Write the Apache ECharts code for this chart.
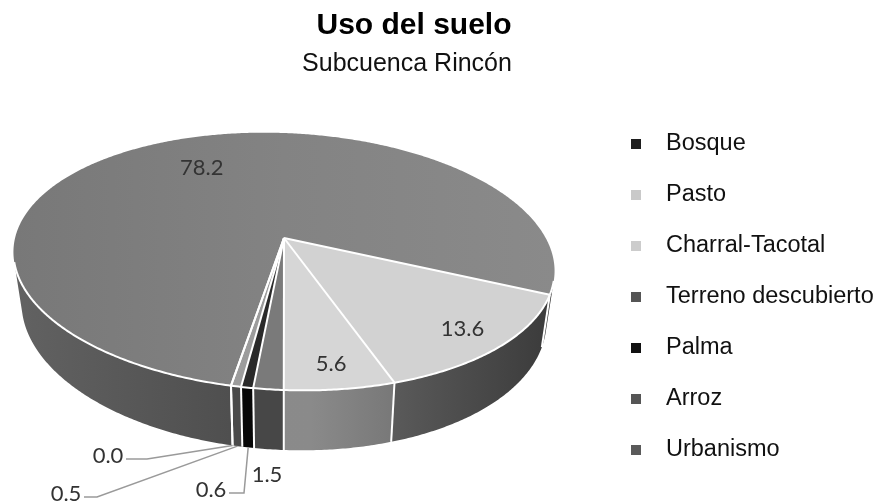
<!DOCTYPE html>
<html><head><meta charset="utf-8">
<script src="https://cdn.jsdelivr.net/npm/echarts@6/dist/echarts.min.js"></script>
<style>html,body{margin:0;padding:0;background:#fff}#c{width:874px;height:503px}</style>
</head><body><div id="c"></div>
<script>
// ---- data ----
const categories = ['Bosque', 'Pasto', 'Charral-Tacotal', 'Terreno descubierto', 'Palma', 'Arroz', 'Urbanismo'];
const values = [78.2, 13.6, 5.6, 1.5, 0.6, 0.5, 0.0];

// ---- styles ----
const legendColors = ['#1e1e1e', '#c9c9c9', '#cccccc', '#555555', '#111111', '#555555', '#5a5a5a'];
const topColors = [
  [[0, '#787878'], [0.5, '#838383'], [1, '#8a8a8a']],
  [[0, '#d2d2d2'], [1, '#d2d2d2']],
  [[0, '#d6d6d6'], [1, '#d6d6d6']],
  [[0, '#7a7a7a'], [1, '#7a7a7a']],
  [[0, '#2a2a2a'], [1, '#2a2a2a']],
  [[0, '#9c9c9c'], [1, '#9c9c9c']],
  [[0, '#888888'], [1, '#888888']]
];
// side wall gradients (global x from left edge to right edge of pie)
const sideColors = [
  [[0, '#626262'], [0.4, '#4f4f4f'], [0.95, '#363636'], [1, '#2a2a2a']],
  [[0, '#5c5c5c'], [0.7, '#5a5a5a'], [1, '#3a3a3a']],
  [[0, '#8c8c8c'], [0.55, '#8a8a8a'], [0.72, '#767676'], [1, '#707070']],
  [[0, '#474747'], [1, '#474747']],
  [[0, '#070707'], [1, '#070707']],
  [[0, '#4a4a4a'], [1, '#4a4a4a']],
  [[0, '#555555'], [1, '#555555']]
];
// ---- layout ----
const G = {cx: 284, cy: 238, rx: 266, ry: 124.2, p: 0.183, k: 0.035, depth: 49, sb: 0.97, startDeg: 189.4, xL: 13, xR: 555};
// label placement: ['in', radiusFraction] or ['out', x, y, leaderElbowX] (leaderElbowX null = no leader)
const labelLayout = [
  ['in', 0.69],
  ['in', 0.85],
  ['in', 0.86],
  ['out', 267, 475, null],
  ['out', 211, 490, 244],
  ['out', 66, 494, 97],
  ['out', 108, 456, 147]
];
const LABEL_FONT = {fontFamily: 'Lato', fontSize: 22, fill: '#333333'};

function proj(deg, r, bottom) {
  const t = deg * Math.PI / 180;
  const u = r * Math.sin(t), v = -r * Math.cos(t);
  const w = 1 - G.p * v;
  let x = G.cx + G.rx * u / w;
  let y = G.cy + G.ry * v / w + G.k * (x - G.cx);
  if (bottom) { x = G.cx + (x - G.cx) * G.sb; y += G.depth / w; }
  return [x, y];
}
function visible(t0, t1) {
  const A = proj(t0, 1, false), B = proj(t1, 1, false), C = proj(t1, 1, true), D = proj(t0, 1, true);
  const P = [A, B, C, D];
  let s = 0;
  for (let i = 0; i < 4; i++) { const a = P[i], b = P[(i + 1) % 4]; s += a[0] * b[1] - b[0] * a[1]; }
  return s < 0;
}
function grad(stops) {
  return {type: 'linear', x: G.xL, y: 0, x2: G.xR, y2: 0, global: true,
    colorStops: stops.map(s => ({offset: s[0], color: s[1]}))};
}
function arc(a, b, bottom) {
  const n = Math.max(1, Math.ceil(Math.abs(b - a) / 0.5));
  const pts = [];
  for (let i = 0; i <= n; i++) pts.push(proj(a + (b - a) * i / n, 1, bottom));
  return pts;
}

function makeRender(idx) {
  return function (params, api) {
    const total = values.reduce((s, v) => s + v, 0);
    let before = 0;
    for (let j = 0; j < idx; j++) before += values[j];
    const val = api.value(0);
    const a = G.startDeg + 360 * before / total;
    const b = a + 360 * val / total;
    const children = [];
    // side wall runs
    const N = Math.max(1, Math.ceil((b - a) / 0.25));
    const runs = [];
    let run = null;
    for (let n = 0; n < N; n++) {
      const t0 = a + (b - a) * n / N, t1 = a + (b - a) * (n + 1) / N;
      if (t1 > t0 && visible(t0, t1)) {
        if (!run) run = [t0, t1]; else run[1] = t1;
      } else if (run) { runs.push(run); run = null; }
    }
    if (run) runs.push(run);
    runs.forEach(r => {
      const top = arc(r[0], r[1], false);
      const bot = arc(r[0], r[1], true).reverse();
      children.push({type: 'polygon', z2: 1, shape: {points: top.concat(bot)},
        style: {fill: grad(sideColors[idx]), stroke: null}});
      children.push({type: 'polyline', z2: 3, shape: {points: top},
        style: {stroke: '#ffffff', lineWidth: 2, fill: null}});
    });
    // vertical boundary line at slice start
    if (visible(a - 0.3, a) || visible(a, a + 0.3)) {
      children.push({type: 'line', z2: 4, shape: {
        x1: proj(a, 1, false)[0], y1: proj(a, 1, false)[1],
        x2: proj(a, 1, true)[0], y2: proj(a, 1, true)[1]},
        style: {stroke: '#ffffff', lineWidth: 2}});
    }
    // top face
    const apex = proj(0, 0, false);
    if (b > a) {
      children.push({type: 'polygon', z2: 2, shape: {points: [apex].concat(arc(a, b, false))},
        style: {fill: grad(topColors[idx]), stroke: null}});
    }
    // radial boundary at slice start
    const ra = proj(a, 1, false);
    children.push({type: 'line', z2: 4, shape: {x1: apex[0], y1: apex[1], x2: ra[0], y2: ra[1]},
      style: {stroke: '#ffffff', lineWidth: 2}});
    // label
    const txt = val.toFixed(1);
    const L = labelLayout[idx];
    const mid = (a + b) / 2;
    if (L[0] === 'in') {
      const pt = proj(mid, L[1], false);
      children.push({type: 'text', z2: 6, x: pt[0], y: pt[1],
        style: Object.assign({text: txt, align: 'center', verticalAlign: 'middle'}, LABEL_FONT)});
    } else {
      children.push({type: 'text', z2: 6, x: L[1], y: L[2],
        style: Object.assign({text: txt, align: 'center', verticalAlign: 'middle'}, LABEL_FONT)});
      if (L[3] != null) {
        const end = proj(mid, 1, true);
        const ly = L[2] + 3;
        const startX = L[3] > L[1] ? L[1] + 18 : L[1] - 18;
        children.push({type: 'polyline', z2: 5, shape: {points: [[startX, ly], [L[3], ly], end]},
          style: {stroke: '#9a9a9a', lineWidth: 1.5, fill: null}});
      }
    }
    return {type: 'group', children: children};
  };
}

const chart = echarts.init(document.getElementById('c'), null, {renderer: 'canvas'});
chart.setOption({
  animation: false,
  backgroundColor: '#ffffff',
  title: [
    {text: 'Uso del suelo', left: 409, top: 6, textAlign: 'center',
      textStyle: {fontFamily: 'Liberation Sans', fontSize: 30, fontWeight: 'bold', color: '#000'}},
    {text: 'Subcuenca Rincón', left: 402, top: 47, textAlign: 'center',
      textStyle: {fontFamily: 'Liberation Sans', fontSize: 25, fontWeight: 'normal', color: '#111'}}
  ],
  legend: {
    orient: 'vertical', left: 626, top: 127, icon: 'rect', itemWidth: 10, itemHeight: 10, itemGap: 27,
    selectedMode: false,
    textStyle: {fontFamily: 'Liberation Sans', fontSize: 23.5, color: '#111', padding: [0, 0, 0, 20], lineHeight: 24},
    data: categories.map((c, i) => ({name: c, itemStyle: {color: legendColors[i]}}))
  },
  series: categories.map((c, i) => ({
    type: 'custom', name: c, coordinateSystem: 'none', silent: true,
    itemStyle: {color: legendColors[i]},
    data: [{name: c, value: [values[i]]}],
    renderItem: makeRender(i)
  }))
});
</script>
</body></html>
